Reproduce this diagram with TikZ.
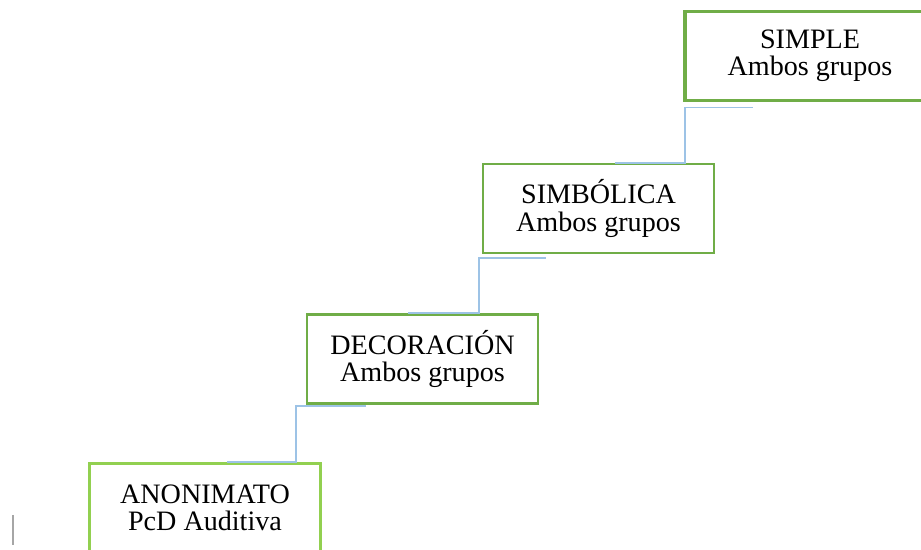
\documentclass[tikz,border=0pt]{standalone}
\usepackage{fontspec}
\setmainfont{Liberation Serif}
\usetikzlibrary{calc}
\definecolor{boxgreen}{HTML}{70AD47}
\definecolor{lightgreen}{HTML}{92D050}
\definecolor{linkblue}{HTML}{9DC3E6}
\begin{document}
\begin{tikzpicture}[x=0.02cm,y=-0.02cm,
    level/.style={draw=boxgreen, line width=1.5pt, fill=white,
      minimum width=4.62cm, minimum height=1.78cm, align=center,
      font=\fontsize{16}{15.5}\selectfont},
    link/.style={draw=linkblue, line width=1pt}]
  \useasboundingbox (0,0) rectangle (921,550);
  \clip (0,0) rectangle (921,550);
  \node[level, draw=lightgreen] (Anon) at (205,508) {ANONIMATO\\PcD Auditiva};
  \node[level] (Deco) at (422.5,359) {DECORACIÓN\\Ambos grupos};
  \node[level] (Simb) at (598.5,208.5) {SIMBÓLICA\\Ambos grupos};
  \node[level, line width=2.2pt, minimum width=5cm] (Simple) at (810,56) {SIMPLE\\Ambos grupos};
  \draw[link] ($(Anon.north)+(22,0)$) -- ++(69,0) |- ($(Deco.south west)+(60,1)$);
  \draw[link] ($(Deco.north)+(-14.5,0)$) -- ++(71,0) |- ($(Simb.south west)+(64,4)$);
  \draw[link] ($(Simb.north)+(16.5,0)$) -- ++(70,0) |- ($(Simple.south west)+(70,5)$);
  \draw[gray!70, line width=0.6pt] (13,515) -- (13,545);
\end{tikzpicture}
\end{document}
